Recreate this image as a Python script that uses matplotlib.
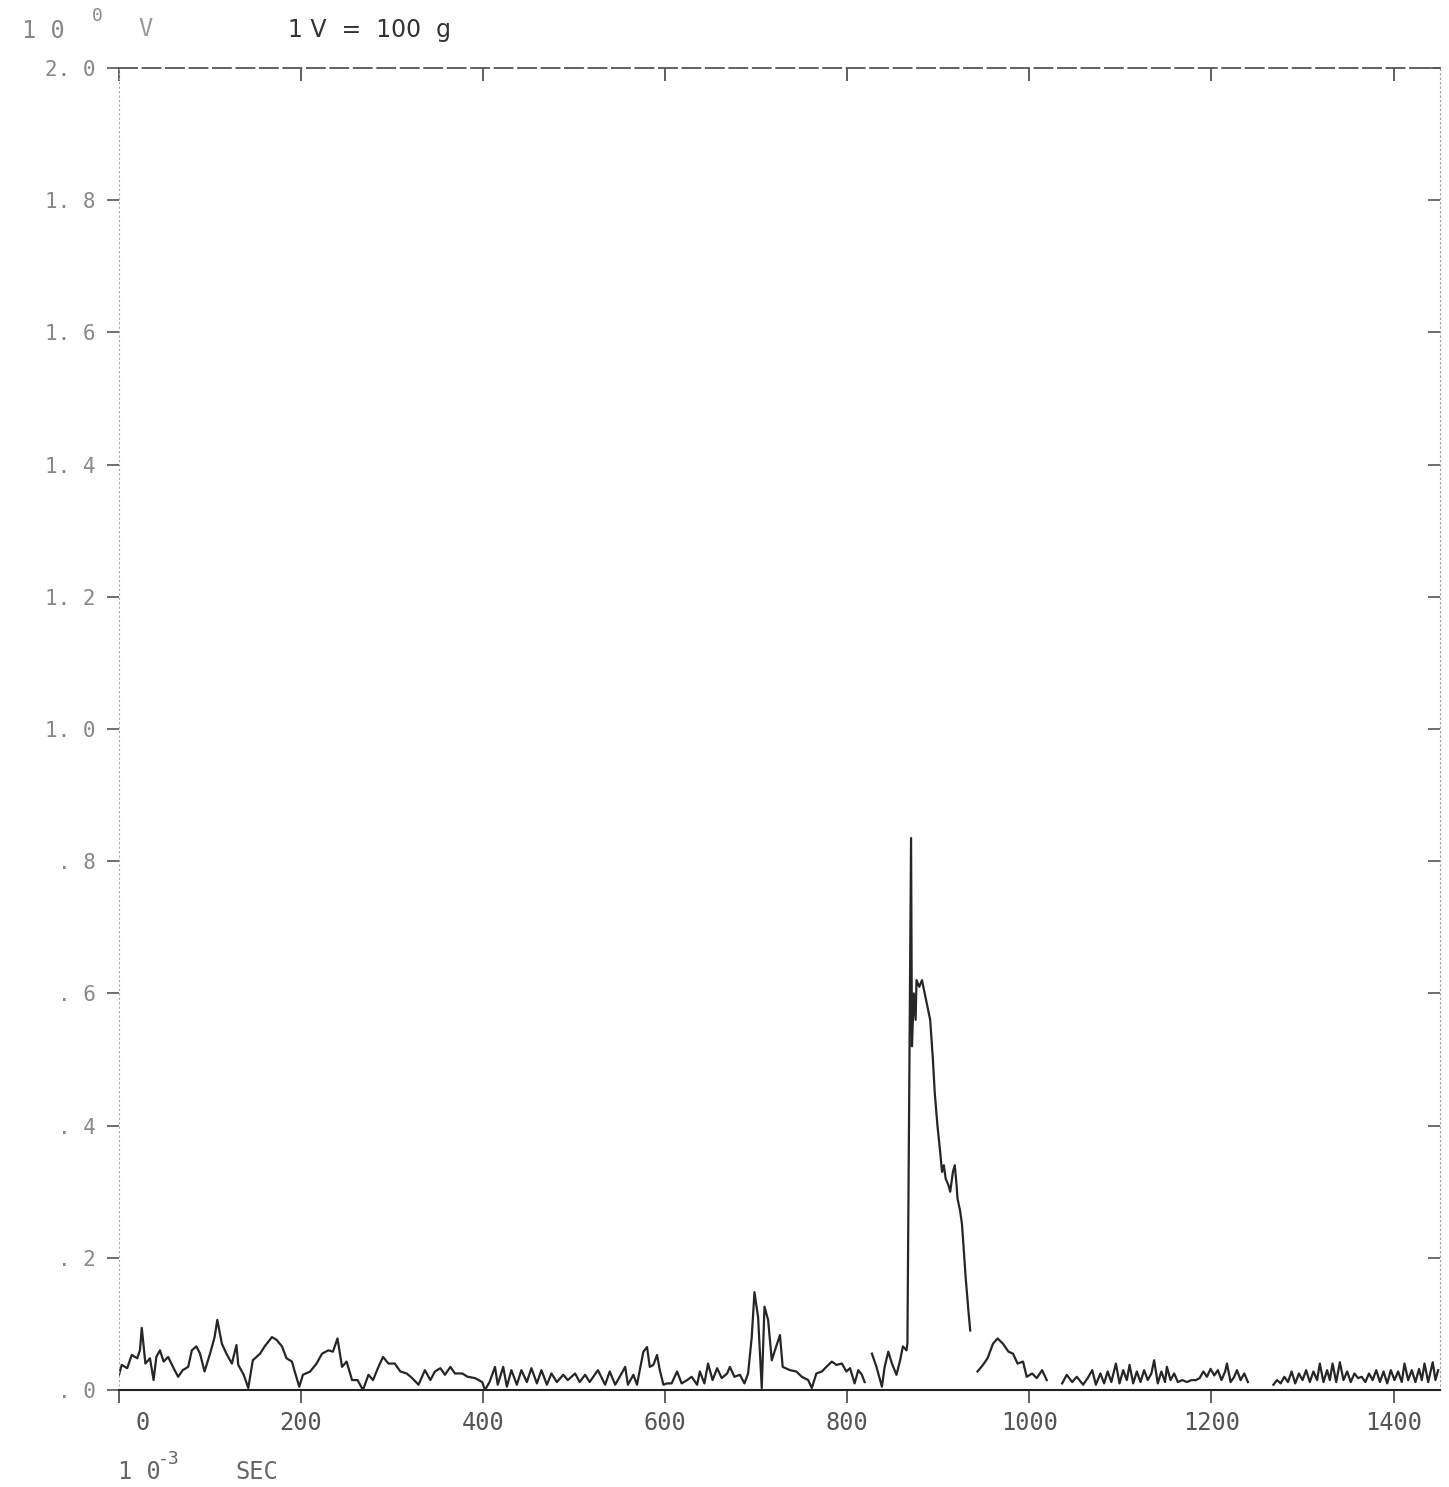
import matplotlib
matplotlib.use("Agg")
import matplotlib.pyplot as plt
import matplotlib.transforms as mtransforms

# force transducer trace, time in ms, output in V (1 V = 100 g)
t1 = [0, 3, 9, 14, 20, 23, 25, 29, 34, 38, 41, 45, 49, 54, 60, 65, 70, 76, 80, 85,
      89, 94, 100, 105, 108, 113, 118, 124, 129, 131, 137, 142, 147, 155, 160, 168,
      173, 179, 184, 190, 193, 198, 202, 210, 217, 223, 230, 235, 240, 245, 250, 256,
      262, 268, 274, 279, 285, 290, 296, 303, 309, 316, 322, 329, 336, 342, 347, 353,
      358, 364, 369, 377, 383, 391, 399, 402, 407, 413, 416, 422, 426, 431, 437, 442,
      448, 453, 459, 464, 470, 475, 481, 488, 493, 501, 506, 512, 517, 526, 534, 539,
      545, 550, 556, 559, 565, 569, 572, 576, 580, 583, 587, 591, 594, 598, 602, 607,
      613, 618, 624, 629, 635, 638, 643, 647, 652, 657, 662, 668, 671, 676, 682, 687,
      691, 695, 698, 702, 706, 709, 713, 717, 720, 726, 729, 737, 744, 750, 757, 761,
      766, 772, 777, 783, 788, 794, 799, 803, 808, 812, 816, 819]
v1 = [0.023, 0.038, 0.033, 0.053, 0.048, 0.06, 0.094, 0.04, 0.048, 0.015, 0.05, 0.06,
      0.043, 0.05, 0.033, 0.02, 0.03, 0.035, 0.06, 0.066, 0.055, 0.028, 0.055, 0.08,
      0.106, 0.07, 0.055, 0.04, 0.068, 0.038, 0.023, 0.003, 0.045, 0.055, 0.066, 0.08,
      0.076, 0.066, 0.048, 0.043, 0.028, 0.005, 0.023, 0.028, 0.04, 0.055, 0.06, 0.058,
      0.078, 0.035, 0.043, 0.015, 0.015, 0.0, 0.023, 0.015, 0.035, 0.05, 0.04, 0.04,
      0.028, 0.025, 0.018, 0.008, 0.03, 0.015, 0.028, 0.033, 0.023, 0.035, 0.025,
      0.025, 0.02, 0.018, 0.012, 0.0, 0.012, 0.035, 0.008, 0.035, 0.005, 0.03, 0.008,
      0.03, 0.012, 0.033, 0.01, 0.03, 0.008, 0.025, 0.012, 0.023, 0.015, 0.025, 0.012,
      0.023, 0.012, 0.03, 0.008, 0.028, 0.008, 0.02, 0.035, 0.008, 0.023, 0.008, 0.03,
      0.058, 0.065, 0.035, 0.038, 0.053, 0.03, 0.008, 0.01, 0.01, 0.028, 0.01, 0.015,
      0.02, 0.008, 0.028, 0.01, 0.04, 0.015, 0.033, 0.018, 0.025, 0.035, 0.02, 0.023,
      0.01, 0.025, 0.08, 0.148, 0.11, 0.003, 0.126, 0.106, 0.045, 0.058, 0.083, 0.035,
      0.03, 0.028, 0.02, 0.015, 0.003, 0.025, 0.028, 0.035, 0.043, 0.038, 0.04, 0.028,
      0.033, 0.01, 0.03, 0.023, 0.012]

# impact
t2 = [827, 832, 838, 841, 845, 849, 854, 858, 861, 865, 866, 870, 871, 873, 875, 876,
      879, 882, 885, 888, 891, 894, 896, 899, 902, 904, 906, 908, 911, 913, 916, 918,
      920, 921, 924, 926, 928, 930, 933, 935]
v2 = [0.055, 0.035, 0.005, 0.035, 0.058, 0.04, 0.023, 0.045, 0.066, 0.06, 0.07, 0.835,
      0.52, 0.60, 0.56, 0.62, 0.61, 0.62, 0.60, 0.58, 0.56, 0.50, 0.45, 0.40, 0.36,
      0.33, 0.34, 0.32, 0.31, 0.30, 0.33, 0.34, 0.31, 0.29, 0.27, 0.25, 0.21, 0.17,
      0.12, 0.09]

t3 = [943, 949, 954, 960, 965, 971, 977, 982, 987, 993, 997, 1003, 1008, 1014, 1019]
v3 = [0.028, 0.038, 0.048, 0.07, 0.078, 0.07, 0.058, 0.055, 0.04, 0.043, 0.02, 0.025,
      0.018, 0.03, 0.015]

t4 = [1036, 1041, 1047, 1052, 1059, 1064, 1069, 1073, 1078, 1082, 1086, 1090, 1095,
      1099, 1103, 1107, 1110, 1114, 1118, 1122, 1126, 1130, 1134, 1137, 1141, 1145,
      1149, 1151, 1155, 1159, 1163, 1168, 1173, 1178, 1183, 1187, 1191, 1195, 1199,
      1203, 1207, 1211, 1215, 1217, 1221, 1225, 1228, 1232, 1236, 1240]
v4 = [0.01, 0.023, 0.012, 0.02, 0.008, 0.018, 0.03, 0.008, 0.025, 0.01, 0.028, 0.012,
      0.04, 0.01, 0.03, 0.015, 0.038, 0.01, 0.028, 0.012, 0.03, 0.015, 0.025, 0.045,
      0.01, 0.028, 0.012, 0.035, 0.015, 0.025, 0.012, 0.015, 0.012, 0.015, 0.015,
      0.018, 0.028, 0.02, 0.032, 0.022, 0.03, 0.015, 0.028, 0.04, 0.012, 0.02, 0.03,
      0.015, 0.025, 0.012]

t5 = [1268, 1272, 1276, 1280, 1284, 1288, 1292, 1296, 1300, 1304, 1308, 1312, 1316,
      1319, 1323, 1327, 1330, 1333, 1337, 1341, 1345, 1349, 1353, 1357, 1361, 1365,
      1369, 1373, 1377, 1381, 1385, 1389, 1393, 1397, 1401, 1405, 1409, 1412, 1416,
      1420, 1424, 1428, 1431, 1434, 1438, 1441, 1443, 1446, 1449]
v5 = [0.008, 0.015, 0.01, 0.02, 0.012, 0.028, 0.01, 0.025, 0.015, 0.03, 0.012, 0.028,
      0.015, 0.04, 0.012, 0.03, 0.015, 0.04, 0.012, 0.042, 0.015, 0.028, 0.012, 0.025,
      0.018, 0.02, 0.012, 0.025, 0.015, 0.03, 0.012, 0.028, 0.01, 0.03, 0.015, 0.028,
      0.012, 0.04, 0.015, 0.03, 0.012, 0.032, 0.015, 0.04, 0.012, 0.03, 0.042, 0.015,
      0.03]

segments = [(t1, v1), (t2, v2), (t3, v3), (t4, v4), (t5, v5)]

x_ticks = [0, 200, 400, 600, 800, 1000, 1200, 1400]
y_ticks = [0.0, 0.2, 0.4, 0.6, 0.8, 1.0, 1.2, 1.4, 1.6, 1.8, 2.0]
y_labels = [". 0", ". 2", ". 4", ". 6", ". 8", "1. 0", "1. 2", "1. 4", "1. 6", "1. 8", "2. 0"]

W, H = 1449, 1487
fig = plt.figure(figsize=(W / 100, H / 100), dpi=100)
ax = fig.add_axes([119 / W, 1 - 1390 / H, (1440 - 119) / W, (1390 - 68) / H])

for t, v in segments:
    ax.plot(t, v, color="#262626", lw=1.6)

ax.set_xlim(0, 1451)
ax.set_ylim(0, 2.0)

ax.spines["left"].set_linestyle((0, (1, 3)))
ax.spines["left"].set_color("#aaaaaa")
ax.spines["right"].set_linestyle((0, (1, 3)))
ax.spines["right"].set_color("#999999")
ax.spines["top"].set_linestyle((0, (10, 3)))
ax.spines["top"].set_color("#555555")
ax.spines["top"].set_linewidth(1.3)
ax.spines["bottom"].set_color("#222222")
ax.spines["bottom"].set_linewidth(1.5)

mono = "DejaVu Sans Mono"
ax.set_xticks(x_ticks)
ax.set_xticklabels([str(x) for x in x_ticks], family=mono, fontsize=17, color="#555555")
ax.set_yticks(y_ticks)
ax.set_yticklabels(y_labels, family=mono, fontsize=15, color="#888888")
ax.tick_params(axis="x", which="both", top=True, direction="out", length=9, width=1.2,
               color="#444444", pad=6)
ax.tick_params(axis="y", which="both", right=True, direction="out", length=9, width=1.2,
               color="#555555", pad=8)
# ticks on the top and right edges point inward
for tl in ax.xaxis.get_ticklines()[1::2]:
    tl.set_marker(3)
for tl in ax.yaxis.get_ticklines()[1::2]:
    tl.set_marker(0)

# the plotter printed the zero label a little right of its tick
zero_lbl = ax.get_xticklabels()[0]
zero_lbl.set_transform(zero_lbl.get_transform() +
                       mtransforms.ScaledTranslation(0.24, 0, fig.dpi_scale_trans))

# header and unit lines
fig.text(22 / W, 1 - 31 / H, "1 0", family=mono, fontsize=17, color="#888888", va="center")
fig.text(92 / W, 1 - 16 / H, "0", family=mono, fontsize=13, color="#888888", va="center")
fig.text(138 / W, 1 - 29 / H, "V", family=mono, fontsize=17, color="#999999", va="center")
fig.text(288 / W, 1 - 30 / H, "1 V  =  100  g", fontsize=17, color="#333333", va="center")

fig.text(118 / W, 1 - 1472 / H, "1 0", family=mono, fontsize=17, color="#666666", va="center")
fig.text(158 / W, 1 - 1459 / H, "-3", family=mono, fontsize=13, color="#666666", va="center")
fig.text(235 / W, 1 - 1472 / H, "SEC", family=mono, fontsize=17, color="#666666", va="center")

fig.savefig("out.png", dpi=100, facecolor="white")
